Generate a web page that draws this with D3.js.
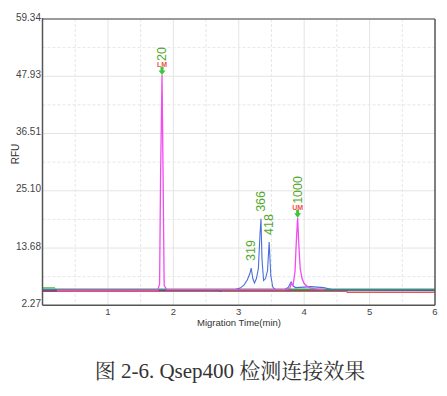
<!DOCTYPE html>
<html>
<head>
<meta charset="utf-8">
<script src="https://cdn.jsdelivr.net/npm/d3@7"></script>
<style>
  body { margin: 0; background: #fff; }
  svg { display: block; }
</style>
</head>
<body>
<svg id="chart" width="447" height="396"></svg>
<script>
// axis ticks
const timeTicks = [1, 2, 3, 4, 5, 6]
const timeMinor = [0.5, 1.5, 2.5, 3.5, 4.5, 5.5]
const rfuTicks = [2.27, 13.68, 25.10, 36.51, 47.93, 59.34]

// traces, [time (min), RFU]
const redTrace = [[0, 5.05], [4.65, 5.05], [4.66, 4.85], [6, 4.85]]
const greenTrace = [[0, 5.7], [0.18, 5.7], [0.19, 5.45], [6, 5.45]]
const tealTrace = [[0, 5.35], [0.6, 5.3], [1.3, 5.25], [1.45, 5.4], [1.5, 5.25], [2.7, 5.25],
  [2.72, 5.05], [2.75, 5.3], [4.7, 5.3], [6, 5.25]]
const purpleTrace = [[0, 5.15], [0.22, 5.15]]
const blueTrace = [[0, 5.35], [2.55, 5.35], [2.57, 5.1], [2.59, 5.35], [2.95, 5.4], [3.02, 5.7],
  [3.08, 6.3], [3.13, 7.3], [3.17, 8.6], [3.19, 9.7], [3.215, 7.6], [3.24, 6.7], [3.27, 7.6],
  [3.30, 9.6], [3.325, 16.5], [3.34, 19.5], [3.355, 11.5], [3.38, 7.2], [3.41, 7.6], [3.44, 9.2],
  [3.465, 14.9], [3.49, 8.2], [3.52, 5.9], [3.56, 5.4], [3.70, 5.4], [3.76, 5.9], [3.80, 6.9],
  [3.83, 6.1], [3.87, 5.8], [4.0, 5.9], [4.1, 6.0], [4.3, 5.8], [4.42, 5.4], [6, 5.35]]
const magentaTrace = [[0.22, 5.3], [1.76, 5.3], [1.79, 6.5], [1.805, 28], [1.827, 48.2],
  [1.845, 26], [1.86, 6.2], [1.9, 5.4], [3.70, 5.4], [3.78, 5.6], [3.80, 6.6], [3.83, 6.2],
  [3.86, 9], [3.88, 15], [3.90, 19.7], [3.92, 14], [3.94, 9.5], [3.97, 7.5], [4.0, 6.6],
  [4.05, 6.0], [4.1, 5.7], [4.2, 5.5], [4.3, 5.4]]

// peak labels
const peakNames = ['20', '319', '366', '418', '1000']
const peakTimes = [1.827, 3.19, 3.34, 3.465, 3.90]
const peakRFU = [48.2, 9.7, 19.5, 14.9, 19.7]
const peakMarkers = ['LM', '', '', '', 'UM']

const svg = d3.select('svg#chart')
const x = d3.scaleLinear().domain([0, 6]).range([42.5, 435])
const y = d3.scaleLinear().domain([2.27, 59.34]).range([305.3, 19])

const font = '"Liberation Sans", Arial, sans-serif'

// grid
const grid = svg.append('g')
grid.selectAll('.vmin').data(timeMinor).enter().append('line')
  .attr('x1', d => x(d)).attr('x2', d => x(d))
  .attr('y1', y(59.34)).attr('y2', y(2.27))
  .attr('stroke', '#e6e6e6').attr('stroke-dasharray', '3,2')
grid.selectAll('.vmaj').data(timeTicks.slice(0, 5)).enter().append('line')
  .attr('x1', d => x(d)).attr('x2', d => x(d))
  .attr('y1', y(59.34)).attr('y2', y(2.27))
  .attr('stroke', '#e4e4e4')
const rfuMinor = rfuTicks.slice(1).map((d, i) => (d + rfuTicks[i]) / 2)
grid.selectAll('.hmin').data(rfuMinor).enter().append('line')
  .attr('x1', x(0)).attr('x2', x(6))
  .attr('y1', d => y(d)).attr('y2', d => y(d))
  .attr('stroke', '#e6e6e6').attr('stroke-dasharray', '3,2')
grid.selectAll('.hmaj').data(rfuTicks.slice(1, 5)).enter().append('line')
  .attr('x1', x(0)).attr('x2', x(6))
  .attr('y1', d => y(d)).attr('y2', d => y(d))
  .attr('stroke', '#e4e4e4')

// traces
const line = d3.line().x(d => x(d[0])).y(d => y(d[1]))
const traces = [
  [redTrace, '#e8534f', 1.5],
  [greenTrace, '#74cc6a', 2],
  [tealTrace, '#1f5b70', 1.1],
  [purpleTrace, '#7d1d63', 1.2],
  [blueTrace, '#4a6fd8', 1.1],
  [magentaTrace, '#f04cf0', 1.3]
]
svg.selectAll('.trace').data(traces).enter().append('path')
  .attr('d', d => line(d[0]))
  .attr('fill', 'none')
  .attr('stroke', d => d[1])
  .attr('stroke-width', d => d[2])

// frame
svg.append('line').attr('x1', x(0)).attr('x2', x(6)).attr('y1', y(59.34)).attr('y2', y(59.34))
  .attr('stroke', '#9a9a9a').attr('stroke-width', 2)
svg.append('line').attr('x1', x(6)).attr('x2', x(6)).attr('y1', y(59.34)).attr('y2', y(2.27))
  .attr('stroke', '#555').attr('stroke-width', 1.5)
svg.append('line').attr('x1', x(0)).attr('x2', x(0)).attr('y1', y(59.34) - 1).attr('y2', y(2.27))
  .attr('stroke', '#555').attr('stroke-width', 1.5)
svg.append('line').attr('x1', x(0)).attr('x2', x(6)).attr('y1', y(2.27)).attr('y2', y(2.27))
  .attr('stroke', '#555').attr('stroke-width', 1.5)

// tick labels
svg.selectAll('.ylab').data(rfuTicks).enter().append('text')
  .attr('x', 41).attr('y', d => y(d) - 2)
  .attr('text-anchor', 'end').attr('dominant-baseline', 'central')
  .attr('font-family', font).attr('font-size', 10).attr('fill', '#444')
  .text(d => d3.format('.2f')(d))
svg.selectAll('.xlab').data(timeTicks).enter().append('text')
  .attr('x', d => x(d)).attr('y', 311.5)
  .attr('text-anchor', 'middle').attr('dominant-baseline', 'central')
  .attr('font-family', font).attr('font-size', 9.5).attr('fill', '#444')
  .text(d => d)

svg.append('text')
  .attr('x', 239).attr('y', 322.5)
  .attr('text-anchor', 'middle').attr('dominant-baseline', 'central')
  .attr('font-family', font).attr('font-size', 9.5).attr('fill', '#333')
  .text('Migration Time(min)')
svg.append('text')
  .attr('transform', 'translate(15,154) rotate(-90)')
  .attr('text-anchor', 'middle').attr('dominant-baseline', 'central')
  .attr('font-family', font).attr('font-size', 10).attr('fill', '#333')
  .text('RFU')

// peak annotations
const peaks = peakNames.map((name, i) => ({
  name: name, t: peakTimes[i], v: peakRFU[i], marker: peakMarkers[i]
}))
const ann = svg.selectAll('.peak').data(peaks).enter().append('g')
  .attr('transform', d => `translate(${x(d.t)},${y(d.v)})`)

ann.filter(d => d.marker).append('path')
  .attr('d', 'M-1.5,-8 L1.5,-8 L1.5,-4.5 L3.5,-4.5 L0,0 L-3.5,-4.5 L-1.5,-4.5 Z')
  .attr('fill', '#3cc63c')
ann.filter(d => d.marker).append('text')
  .attr('y', -10.5)
  .attr('text-anchor', 'middle').attr('dominant-baseline', 'central')
  .attr('font-family', font).attr('font-size', 7).attr('font-weight', 'bold')
  .attr('fill', '#f0504a')
  .text(d => d.marker)
ann.append('text')
  .attr('transform', d => `translate(0,${d.marker ? -14 : -7}) rotate(-90)`)
  .attr('text-anchor', 'start').attr('dominant-baseline', 'central')
  .attr('font-family', font).attr('font-size', 12.5)
  .attr('fill', '#55a82c')
  .text(d => d.name)

// caption
svg.append('text')
  .attr('x', 230).attr('y', 371)
  .attr('text-anchor', 'middle').attr('dominant-baseline', 'central')
  .attr('font-family', '"Liberation Serif", "Noto Serif CJK SC", "Noto Sans CJK SC", serif')
  .attr('font-size', 21).attr('fill', '#333')
  .text('图 2-6. Qsep400 检测连接效果')
</script>
</body>
</html>
